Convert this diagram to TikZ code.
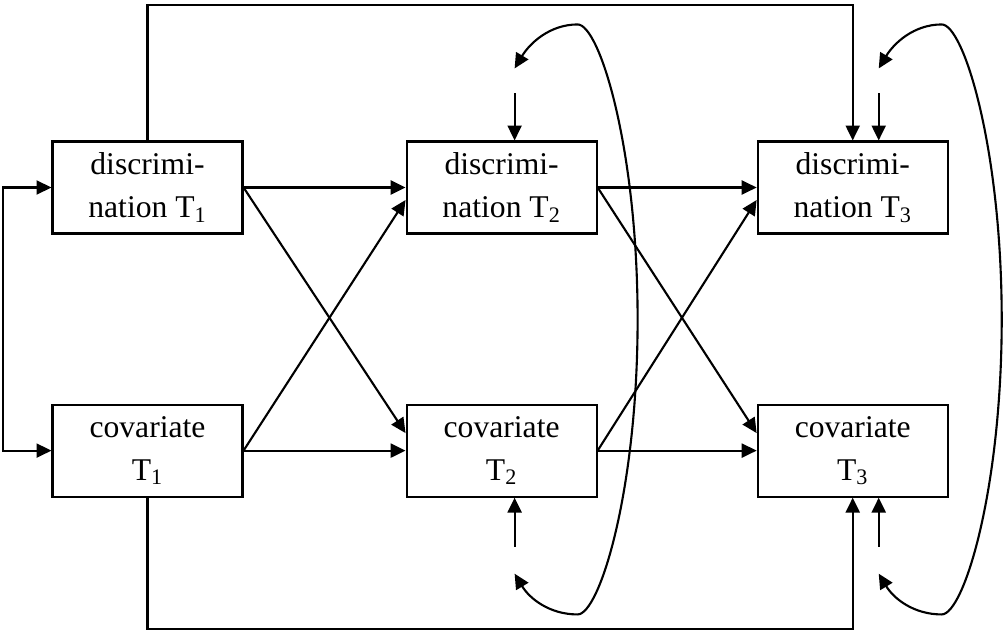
\documentclass[tikz,border=0pt]{standalone}
\usepackage{fontspec}
\setmainfont{Liberation Serif}
\usepackage{tikz}
\usetikzlibrary{arrows.meta}
\usetikzlibrary{positioning}
\tikzstyle{box}=[draw,line width=1.2pt,minimum width=3.8cm,minimum height=1.84cm,inner sep=0pt,align=center,font=\fontsize{18}{24.5}\selectfont]
\tikzstyle{pthhead}=[>/.tip={Triangle[length=8.5pt,width=8pt]}]
\tikzstyle{pth}=[line width=1.2pt,pthhead,->]
\tikzstyle{cov}=[line width=1.2pt,pthhead,<->]

\begin{document}
\begin{tikzpicture}
	\useasboundingbox (-2.95,3.75) rectangle (17.13,-8.89);
	\node[box] (d1) {discrimi-\\nation T\textsubscript{1}};
	\node[box,right=3.24cm of d1] (d2) {discrimi-\\nation T\textsubscript{2}};
	\node[box,right=3.18cm of d2] (d3) {discrimi-\\nation T\textsubscript{3}};
	\node[box,below=3.38cm of d1] (c1) {covariate\\T\textsubscript{1}};
	\node[box,below=3.38cm of d2] (c2) {covariate\\T\textsubscript{2}};
	\node[box,below=3.38cm of d3] (c3) {covariate\\T\textsubscript{3}};
	% free ends of the residual arrows
	\coordinate (ud2) at ([xshift=.26cm,yshift=.94cm]d2.north);
	\coordinate (uc2) at ([xshift=.26cm,yshift=-.98cm]c2.south);
	\coordinate (ud3) at ([xshift=.52cm,yshift=.94cm]d3.north);
	\coordinate (uc3) at ([xshift=.52cm,yshift=-.98cm]c3.south);
	\coordinate (ed2) at ([xshift=.26cm,yshift=1.44cm]d2.north);
	\coordinate (ec2) at ([xshift=.26cm,yshift=-1.52cm]c2.south);
	\coordinate (ed3) at ([xshift=.52cm,yshift=1.44cm]d3.north);
	\coordinate (ec3) at ([xshift=.52cm,yshift=-1.52cm]c3.south);
	\draw[pth] (d1.east) -- (d2.west);
	\draw[pth] (d2.east) -- (d3.west);
	\draw[pth] (c1.east) -- (c2.west);
	\draw[pth] (c2.east) -- (c3.west);
	\draw[pth] (d1.east) -- ([yshift=.35cm]c2.west);
	\draw[pth] (d2.east) -- ([yshift=.35cm]c3.west);
	\draw[pth] (c1.east) -- ([yshift=-.25cm]d2.west);
	\draw[pth] (c2.east) -- ([yshift=-.25cm]d3.west);
	\draw[cov] (d1.west) -- ++(-.96,0) |- (c1.west);
	\draw[pth] (d1.north) -- ++(0,2.71) -| (d3.north);
	\draw[pth] (c1.south) -- ++(0,-2.63) -| (c3.south);
	\draw[pth] (ud2) -- ([xshift=.26cm]d2.north);
	\draw[pth] (uc2) -- ([xshift=.26cm]c2.south);
	\draw[pth] (ud3) -- ([xshift=.52cm]d3.north);
	\draw[pth] (uc3) -- ([xshift=.52cm]c3.south);
	\draw[cov] (ed2) .. controls +(.3,.5) and +(-.56,0) .. ++(1.26,.88)
		.. controls +(.44,0) and +(0,3.42) .. ++(1.2,-5.9)
		.. controls +(0,-3.42) and +(.44,0) .. ++(-1.2,-5.9)
		.. controls +(-.56,0) and +(.3,-.5) .. (ec2);
	\draw[cov] (ed3) .. controls +(.3,.5) and +(-.56,0) .. ++(1.26,.88)
		.. controls +(.44,0) and +(0,3.42) .. ++(1.2,-5.9)
		.. controls +(0,-3.42) and +(.44,0) .. ++(-1.2,-5.9)
		.. controls +(-.56,0) and +(.3,-.5) .. (ec3);
\end{tikzpicture}
\end{document}
